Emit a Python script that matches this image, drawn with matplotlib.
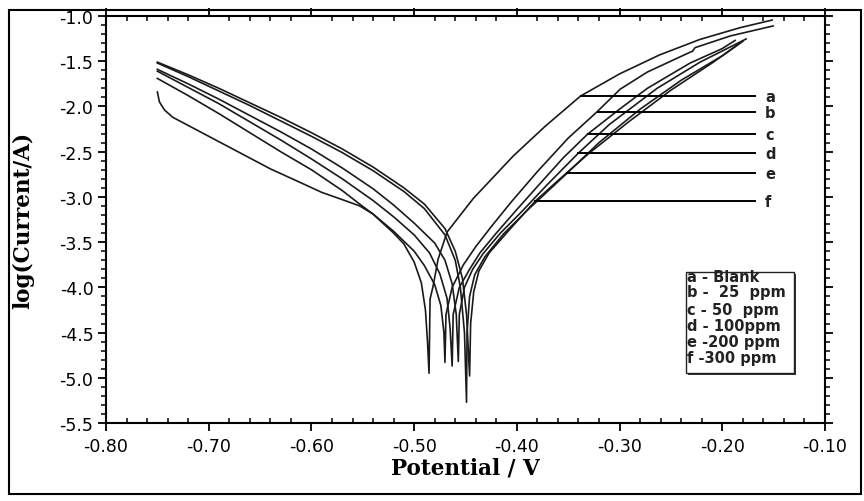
import matplotlib
matplotlib.use("Agg")
import matplotlib.pyplot as plt
from matplotlib.patches import Rectangle
from matplotlib.ticker import MultipleLocator, FormatStrFormatter

plt.rcParams['axes.unicode_minus'] = False

# ---- data (potential in V, log(current/A)) ----
potential_a = [-0.750, -0.748, -0.743, -0.735, -0.720, -0.690, -0.660, -0.640, -0.611, -0.590,
               -0.570, -0.553, -0.540, -0.520, -0.510, -0.500, -0.493, -0.489, -0.487, -0.4855,
               -0.4845, -0.4816, -0.4767, -0.468, -0.4426, -0.4037, -0.3725, -0.338, -0.300,
               -0.261, -0.222, -0.183, -0.1515]
logi_a = [-1.84, -1.95, -2.04, -2.12, -2.21, -2.39, -2.57, -2.69, -2.84, -2.95,
          -3.03, -3.10, -3.19, -3.40, -3.52, -3.72, -3.95, -4.25, -4.60, -4.95,
          -4.13, -3.99, -3.69, -3.39, -3.02, -2.55, -2.22, -1.885, -1.64,
          -1.43, -1.26, -1.13, -1.045]

potential_b = [-0.750, -0.720, -0.690, -0.660, -0.630, -0.600, -0.570, -0.553, -0.540, -0.520,
               -0.500, -0.490, -0.480, -0.474, -0.471, -0.470,
               -0.469, -0.463, -0.452, -0.440, -0.425, -0.405, -0.380, -0.350, -0.322,
               -0.2995, -0.273, -0.2313, -0.229, -0.2265, -0.192, -0.1505]
logi_b = [-1.69, -1.88, -2.08, -2.29, -2.50, -2.70, -2.93, -3.08, -3.19, -3.38,
          -3.60, -3.76, -3.97, -4.20, -4.50, -4.83,
          -4.30, -4.00, -3.75, -3.55, -3.33, -3.05, -2.72, -2.35, -2.06,
          -1.81, -1.62, -1.40, -1.39, -1.35, -1.22, -1.11]

potential_c = [-0.750, -0.720, -0.690, -0.660, -0.630, -0.600, -0.570, -0.540, -0.520, -0.500,
               -0.485, -0.475, -0.468, -0.465, -0.463,
               -0.462, -0.456, -0.446, -0.436, -0.420, -0.400, -0.378, -0.355, -0.331,
               -0.300, -0.273, -0.2313, -0.200, -0.1875]
logi_c = [-1.61, -1.79, -1.97, -2.17, -2.37, -2.58, -2.80, -3.04, -3.22, -3.42,
          -3.62, -3.85, -4.12, -4.45, -4.87,
          -4.30, -4.00, -3.80, -3.62, -3.40, -3.14, -2.86, -2.57, -2.305,
          -2.03, -1.80, -1.52, -1.36, -1.27]

potential_d = [-0.750, -0.720, -0.690, -0.660, -0.630, -0.600, -0.570, -0.540, -0.520, -0.500,
               -0.480, -0.470, -0.463, -0.459, -0.457,
               -0.456, -0.451, -0.443, -0.433, -0.416, -0.395, -0.370, -0.340, -0.310,
               -0.2635, -0.2216, -0.1768]
logi_d = [-1.59, -1.75, -1.92, -2.10, -2.28, -2.47, -2.68, -2.91, -3.09, -3.29,
          -3.51, -3.70, -3.96, -4.30, -4.82,
          -4.30, -4.00, -3.80, -3.63, -3.40, -3.16, -2.86, -2.515, -2.20,
          -1.80, -1.51, -1.254]

potential_e = [-0.750, -0.720, -0.690, -0.660, -0.630, -0.600, -0.570, -0.540, -0.510, -0.490,
               -0.470, -0.460, -0.455, -0.451, -0.449,
               -0.4485, -0.446, -0.441, -0.431, -0.413, -0.390, -0.351, -0.320, -0.280,
               -0.240, -0.200, -0.183]
logi_e = [-1.52, -1.67, -1.83, -1.99, -2.16, -2.33, -2.51, -2.71, -2.94, -3.13,
          -3.42, -3.70, -4.00, -4.50, -5.27,
          -4.50, -4.10, -3.86, -3.66, -3.41, -3.15, -2.737, -2.40, -2.03,
          -1.71, -1.44, -1.30]

potential_f = [-0.750, -0.720, -0.690, -0.660, -0.630, -0.600, -0.570, -0.540, -0.510, -0.490,
               -0.470, -0.460, -0.453, -0.449, -0.446,
               -0.445, -0.442, -0.437, -0.427, -0.407, -0.382, -0.360, -0.330, -0.290,
               -0.250, -0.210, -0.180]
logi_f = [-1.51, -1.65, -1.80, -1.96, -2.12, -2.29, -2.47, -2.67, -2.90, -3.08,
          -3.35, -3.60, -3.90, -4.30, -4.98,
          -4.40, -4.05, -3.82, -3.62, -3.36, -3.046, -2.82, -2.52, -2.16,
          -1.82, -1.52, -1.28]

# curve labels with their leader lines
label_letters = ['a', 'b', 'c', 'd', 'e', 'f']
label_logi = [-1.885, -2.062, -2.305, -2.515, -2.737, -3.046]
label_line_start = [-0.338, -0.321, -0.331, -0.340, -0.351, -0.382]
label_line_end = -0.168
label_text_x = -0.1585

legend_lines = ['a - Blank', 'b -  25  ppm', 'c - 50  ppm', 'd - 100ppm', 'e -200 ppm', 'f -300 ppm']

# ---- figure ----
W, H = 864, 502
fig = plt.figure(figsize=(W / 100, H / 100), dpi=100)
ax = fig.add_axes([106 / W, 1 - 424 / H, (825 - 106) / W, (424 - 17) / H])

curves = [(potential_a, logi_a), (potential_b, logi_b), (potential_c, logi_c),
          (potential_d, logi_d), (potential_e, logi_e), (potential_f, logi_f)]
for xs, ys in curves:
    ax.plot(xs, ys, color='#1a1a1a', lw=1.2, solid_joinstyle='round')

for letter, yv, xs in zip(label_letters, label_logi, label_line_start):
    ax.plot([xs, label_line_end], [yv, yv], color='black', lw=1.4)
    ax.text(label_text_x, yv, letter, ha='left', va='center', fontsize=10.5,
            fontweight='bold', family='DejaVu Sans', color='#222222')

ax.set_xlim(-0.80, -0.10)
ax.set_ylim(-5.5, -1.0)
ax.xaxis.set_major_locator(MultipleLocator(0.1))
ax.xaxis.set_minor_locator(MultipleLocator(0.02))
ax.yaxis.set_major_locator(MultipleLocator(0.5))
ax.yaxis.set_minor_locator(MultipleLocator(0.1))
ax.xaxis.set_major_formatter(FormatStrFormatter('%.2f'))
ax.yaxis.set_major_formatter(FormatStrFormatter('%.1f'))

ax.tick_params(axis='x', which='major', direction='out', length=6, width=1.3,
               top=True, bottom=True, labelsize=12.5, pad=4)
ax.tick_params(axis='x', which='minor', direction='in', length=3.5, width=1.1,
               top=True, bottom=True)
ax.tick_params(axis='y', which='major', direction='out', length=6, width=1.3,
               left=True, right=True, labelsize=12.5, pad=3)
ax.tick_params(axis='y', which='minor', direction='out', length=3.5, width=1.1,
               left=True, right=True)
for lab in ax.get_xticklabels() + ax.get_yticklabels():
    lab.set_family('DejaVu Sans')
for sp in ax.spines.values():
    sp.set_linewidth(1.5)

ax.set_xlabel('Potential / V', family='DejaVu Serif', fontweight='bold', fontsize=15.5)
ax.set_ylabel('log(Current/A)', family='DejaVu Serif', fontweight='bold', fontsize=15.5)
ax.xaxis.set_label_coords(0.5, -0.083)
ax.yaxis.set_label_coords(-0.100, 0.5)

# legend-like box
bx0, bx1 = (686 - 106) / 719, (794 - 106) / 719
by0, by1 = (424 - 374) / 407, (424 - 273) / 407
ax.add_patch(Rectangle((bx0 + 0.003, by0 - 0.006), bx1 - bx0, by1 - by0, transform=ax.transAxes,
                       facecolor='#333333', edgecolor='none', zorder=4))
ax.add_patch(Rectangle((bx0, by0), bx1 - bx0, by1 - by0, transform=ax.transAxes,
                       facecolor='white', edgecolor='#222222', lw=1.0, zorder=5))
ty = [277, 293, 310, 327, 343, 359]
for txt, yp in zip(legend_lines, ty):
    ax.text(bx0 + 0.002, (424 - yp) / 407, txt, transform=ax.transAxes, ha='left', va='center',
            fontsize=10.5, fontweight='bold', family='DejaVu Sans', color='#222222', zorder=6)

# outer frame
fig.add_artist(Rectangle((9 / W, 1 - 495 / H), (861 - 9) / W, (495 - 11) / H,
                         transform=fig.transFigure, fill=False, edgecolor='black', lw=1.5))

fig.savefig('out.png', dpi=100)
